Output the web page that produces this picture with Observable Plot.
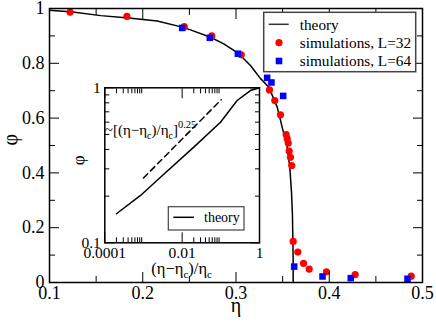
<!DOCTYPE html>
<html><head><meta charset="utf-8">
<script src="https://cdn.jsdelivr.net/npm/d3@7"></script>
<script src="https://cdn.jsdelivr.net/npm/@observablehq/plot@0.6"></script>
<style>
html,body{margin:0;padding:0;background:#fff;}
#wrap{position:relative;width:436px;height:321px;overflow:hidden;font-family:"Liberation Serif",serif;}
#wrap svg{position:absolute;left:0;top:0;}
</style></head><body><div id="wrap"></div>
<script>
// ---- main panel data ----
const theoryEta = [0.1, 0.125, 0.155, 0.185, 0.2155, 0.2423, 0.2512, 0.2726, 0.2869, 0.303, 0.3155, 0.3263, 0.3352, 0.3442, 0.3495, 0.3549, 0.3577, 0.3595, 0.3605, 0.361, 0.3613, 0.3613];
const theoryPhi = [0.994, 0.987, 0.974, 0.965, 0.954, 0.932, 0.922, 0.895, 0.871, 0.835, 0.792, 0.744, 0.713, 0.640, 0.567, 0.494, 0.421, 0.33, 0.25, 0.153, 0.08, 0];
const sim32Eta = [0.122, 0.183, 0.2445, 0.274, 0.3056, 0.3359, 0.3416, 0.3477, 0.3538, 0.3549, 0.356, 0.357, 0.3584, 0.3598, 0.3613, 0.3663, 0.3724, 0.3785, 0.397, 0.4278, 0.4879];
const sim32Phi = [0.987, 0.971, 0.934, 0.900, 0.831, 0.703, 0.664, 0.612, 0.540, 0.525, 0.509, 0.480, 0.457, 0.427, 0.150, 0.111, 0.070, 0.049, 0.039, 0.029, 0.023];
const sim64Eta = [0.2423, 0.2719, 0.302, 0.3334, 0.338, 0.3506, 0.3624, 0.3928, 0.4231, 0.4839];
const sim64Phi = [0.929, 0.893, 0.835, 0.747, 0.730, 0.681, 0.058, 0.022, 0.016, 0.0135];
const xMajor = [0.1, 0.2, 0.3, 0.4, 0.5];
const xMinor = [0.15, 0.25, 0.35, 0.45];
const yMajor = [0, 0.2, 0.4, 0.6, 0.8, 1];
const yMinor = [0.1, 0.3, 0.5, 0.7, 0.9];
const legendLabels = ["theory", "simulations, L=32", "simulations, L=64"];

// ---- inset data ----
const insetX = [2.0e-4, 8.4e-4, 2.75e-3, 0.02, 0.098, 0.264, 0.58, 1];
const insetPhi = [0.154, 0.202, 0.265, 0.414, 0.6, 0.828, 0.96, 1];
const slopeX = [1e-3, 0.102];
const slopePhi = [0.262, 0.837];
const insetXMajor = [1e-4, 1e-2, 1];
const insetXMinor = [2e-4, 3e-4, 4e-4, 5e-4, 6e-4, 7e-4, 8e-4, 9e-4, 2e-2, 3e-2, 4e-2, 5e-2, 6e-2, 7e-2, 8e-2, 9e-2];
const insetXLabels = ["0.0001", "0.01", "1"];
const insetYMajor = [0.1, 1];
const insetYMinor = [0.2, 0.3, 0.4, 0.5, 0.6, 0.7, 0.8, 0.9];
const insetYLabels = ["0.1", "1"];

const FONT = '"Liberation Serif", "Times New Roman", "Nimbus Roman", "DejaVu Serif", serif';
const zip = (a, b) => a.map((v, i) => ({x: v, y: b[i]}));

const main = Plot.plot({
  width: 436, height: 321,
  marginLeft: 49, marginRight: 14, marginTop: 8, marginBottom: 39,
  x: {domain: [0.1, 0.5]},
  y: {domain: [0, 1]},
  style: {fontFamily: FONT, fontSize: "18px", background: "white", color: "black"},
  marks: [
    Plot.line(zip(theoryEta, theoryPhi), {x: "x", y: "y", stroke: "black", strokeWidth: 1.5}),
    Plot.dot(zip(sim32Eta, sim32Phi), {x: "x", y: "y", r: 3.6, fill: "#ff0000", stroke: "none"}),
    Plot.dot(zip(sim64Eta, sim64Phi), {x: "x", y: "y", r: 3.7, symbol: "square", fill: "#0000ff", stroke: "none"}),
    // inward ticks
    Plot.axisX(xMajor, {anchor: "bottom", tickSize: -10, fill: "none", label: null}),
    Plot.axisX(xMinor, {anchor: "bottom", tickSize: -6, fill: "none", label: null}),
    Plot.axisX(xMajor, {anchor: "top", tickSize: -10, fill: "none", label: null}),
    Plot.axisX(xMinor, {anchor: "top", tickSize: -6, fill: "none", label: null}),
    Plot.axisY(yMajor, {anchor: "left", tickSize: -10, fill: "none", label: null}),
    Plot.axisY(yMinor, {anchor: "left", tickSize: -6, fill: "none", label: null}),
    Plot.axisY(yMajor, {anchor: "right", tickSize: -10, fill: "none", label: null}),
    Plot.axisY(yMinor, {anchor: "right", tickSize: -6, fill: "none", label: null}),
    // labels
    Plot.axisX(xMajor, {anchor: "bottom", tickSize: 0, tickPadding: 4, tickFormat: d => String(d), label: null}),
    Plot.axisY(yMajor, {anchor: "left", tickSize: 0, tickPadding: 5, tickFormat: d => String(d), label: null}),
    Plot.text(["η"], {frameAnchor: "bottom", dy: 29, fontSize: 20}),
    Plot.text(["φ"], {frameAnchor: "left", dx: -39, rotate: -90, fontSize: 20}),
    Plot.frame({stroke: "black", strokeWidth: 1.5})
  ]
});
document.getElementById("wrap").appendChild(main);

// main legend
{
  const svg = d3.select(main);
  const g = svg.append("g").attr("font-family", FONT).attr("font-size", 15.3).attr("text-anchor", "start");
  const bx = 263.7, by = 12.3, bw = 152, bh = 59.4;
  g.append("rect").attr("x", bx).attr("y", by).attr("width", bw).attr("height", bh)
    .attr("fill", "white").attr("stroke", "#444").attr("stroke-width", 1.5);
  const rows = [24.3, 42.7, 61];
  g.append("line").attr("x1", bx + 5).attr("x2", bx + 25).attr("y1", rows[0]).attr("y2", rows[0])
    .attr("stroke", "#333").attr("stroke-width", 1.5);
  g.append("circle").attr("cx", bx + 15.3).attr("cy", rows[1]).attr("r", 3.6).attr("fill", "#ff0000");
  g.append("rect").attr("x", bx + 15.3 - 3.3).attr("y", rows[2] - 3.3).attr("width", 6.6).attr("height", 6.6).attr("fill", "#0000ff");
  legendLabels.forEach((t, i) => {
    g.append("text").attr("x", bx + 36).attr("y", rows[i]).attr("dy", "0.35em").attr("text-anchor", "start").attr("fill", "black").text(t);
  });
}

const inset = Plot.plot({
  width: 210, height: 200,
  marginLeft: 44.3, marginRight: 11, marginTop: 7.3, marginBottom: 37.7,
  x: {type: "log", domain: [1e-4, 1]},
  y: {type: "log", domain: [0.1, 1]},
  style: {fontFamily: FONT, fontSize: "15.5px", background: "transparent", color: "black", overflow: "visible"},
  marks: [
    Plot.frame({fill: "white", stroke: "none"}),
    Plot.line(zip(insetX, insetPhi), {x: "x", y: "y", stroke: "black", strokeWidth: 1.5}),
    Plot.line(zip(slopeX, slopePhi), {x: "x", y: "y", stroke: "black", strokeWidth: 1.5, strokeDasharray: "6,4"}),
    Plot.axisX(insetXMajor, {anchor: "bottom", tickSize: -10, fill: "none", label: null}),
    Plot.axisX(insetXMinor, {anchor: "bottom", tickSize: -5, fill: "none", label: null}),
    Plot.axisX(insetXMajor, {anchor: "top", tickSize: -10, fill: "none", label: null}),
    Plot.axisX(insetXMinor, {anchor: "top", tickSize: -5, fill: "none", label: null}),
    Plot.axisY(insetYMajor, {anchor: "left", tickSize: -10, fill: "none", label: null}),
    Plot.axisY(insetYMinor, {anchor: "left", tickSize: -5, fill: "none", label: null}),
    Plot.axisY(insetYMajor, {anchor: "right", tickSize: -10, fill: "none", label: null}),
    Plot.axisY(insetYMinor, {anchor: "right", tickSize: -5, fill: "none", label: null}),
    Plot.axisX(insetXMajor, {anchor: "bottom", tickSize: 0, tickPadding: 4, tickFormat: d => insetXLabels[insetXMajor.findIndex(v => Math.abs(v - d) < v * 1e-6)], label: null}),
    Plot.axisY(insetYMajor, {anchor: "left", tickSize: 0, tickPadding: 4, tickFormat: d => insetYLabels[insetYMajor.findIndex(v => Math.abs(v - d) < v * 1e-6)], label: null}),
    Plot.text(["φ"], {frameAnchor: "left", dx: -26, rotate: -90, fontSize: 17}),
    Plot.frame({stroke: "black", strokeWidth: 1.5})
  ]
});
inset.style.left = "60px";
inset.style.top = "80px";
document.getElementById("wrap").appendChild(inset);

{
  const svg = d3.select(inset);
  const sx = inset.scale("x");
  // x-axis label (η−η_c)/η_c
  const cx = (sx.range[0] + sx.range[1]) / 2;
  const lab = svg.append("text").attr("font-family", FONT).attr("font-size", 16.5)
    .attr("x", cx).attr("y", 188).attr("dy", "0.35em").attr("text-anchor", "middle").attr("fill", "black");
  lab.append("tspan").text("(η−η");
  lab.append("tspan").attr("font-size", 11).attr("dy", 4).text("c");
  lab.append("tspan").attr("dy", -4).text(")/η");
  lab.append("tspan").attr("font-size", 11).attr("dy", 4).text("c");

  // annotation ~[(η−η_c)/η_c]^0.25
  const ann = svg.append("text").attr("font-family", FONT).attr("font-size", 15)
    .attr("x", sx.apply(1e-4) + 0.5).attr("y", 50).attr("dy", "0.35em").attr("text-anchor", "start").attr("fill", "black");
  ann.append("tspan").text("~[(η−η");
  ann.append("tspan").attr("font-size", 10).attr("dy", 4).text("c");
  ann.append("tspan").attr("dy", -4).text(")/η");
  ann.append("tspan").attr("font-size", 10).attr("dy", 4).text("c");
  ann.append("tspan").attr("dy", -4).text("]");
  ann.append("tspan").attr("font-size", 10.5).attr("dy", -7).text("0.25");

  // inset legend
  const g = svg.append("g").attr("font-family", FONT).attr("font-size", 14).attr("text-anchor", "start");
  const bx = 108.3, by = 126.7, bw = 75.7, bh = 23.3, ry = 137.3;
  g.append("rect").attr("x", bx).attr("y", by).attr("width", bw).attr("height", bh)
    .attr("fill", "white").attr("stroke", "#444").attr("stroke-width", 1.2);
  g.append("line").attr("x1", bx + 5).attr("x2", bx + 25.7).attr("y1", ry).attr("y2", ry)
    .attr("stroke", "black").attr("stroke-width", 1.5);
  g.append("text").attr("x", bx + 35.7).attr("y", ry).attr("dy", "0.35em").attr("text-anchor", "start").attr("fill", "black").text("theory");
}
</script></body></html>
